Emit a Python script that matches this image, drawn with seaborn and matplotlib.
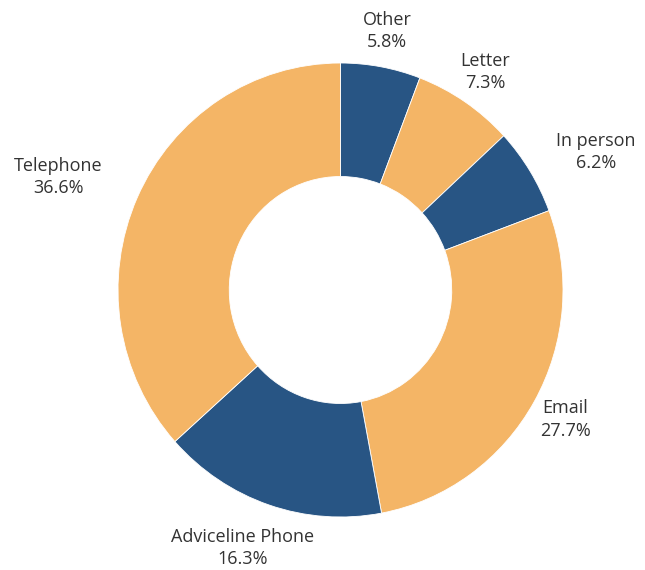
import matplotlib
matplotlib.use('Agg')
import matplotlib.pyplot as plt
import numpy as np
import seaborn as sns

sns.set_style('white')
plt.rcParams['font.family'] = ['Open Sans', 'DejaVu Sans']

# data, clockwise from 12 o'clock
channels = ['Other', 'Letter', 'In person', 'Email', 'Adviceline Phone', 'Telephone']
shares = [5.8, 7.3, 6.2, 27.7, 16.3, 36.6]

# label layout: base distance plus a nudge for the crowded ones
label_base = 1.16
label_nudge = [(0, 0), (0, 0), (0.16, 0), (0, 0), (-0.066, -0.037), (-0.21, 0.026)]

blue = '#285584'
orange = '#f4b566'
colors = [blue if i % 2 == 0 else orange for i in range(len(shares))]

fig = plt.figure(figsize=(6.45, 5.7), dpi=100)
ax = fig.add_axes([0, 0, 1, 1])

wedges, _ = ax.pie(shares, colors=colors, startangle=90, counterclock=False,
                   radius=1.0, wedgeprops=dict(width=0.5, edgecolor='white', linewidth=0.6))

total = sum(shares)
cum = 0
for name, val, (nx, ny) in zip(channels, shares, label_nudge):
    mid = np.deg2rad(90 - (cum + val / 2) / total * 360)
    cum += val
    ax.text(label_base * np.cos(mid) + nx, label_base * np.sin(mid) + ny,
            '%s\n%.1f%%' % (name, val),
            ha='center', va='center', fontsize=13, color='#333333', linespacing=1.3)

# pixel scale of the reference (slightly taller than wide)
sx, sy = 222.5, 227.0
cx, cy = 340.5, 290.0
ax.set_xlim(-cx / sx, (645 - cx) / sx)
ax.set_ylim(-(570 - cy) / sy, cy / sy)
ax.set_aspect('auto')
ax.axis('off')

fig.savefig('out.png', dpi=100, facecolor='white')
